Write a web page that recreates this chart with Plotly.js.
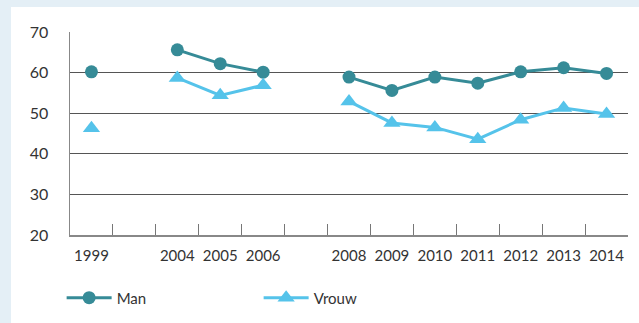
<!DOCTYPE html>
<html>
<head>
<meta charset="utf-8">
<script src="https://cdn.plot.ly/plotly-3.0.1.min.js"></script>
<style>
html,body{margin:0;padding:0;background:#e4eff6;width:639px;height:323px;overflow:hidden;}
#chart{position:absolute;left:11px;top:7px;width:628px;height:316px;background:#fff;}
</style>
</head>
<body>
<div id="chart"></div>
<script>
// Categories (blank slots keep the spacing of the missing years)
const categories = ['1999', ' ', '2004', '2005', '2006', '  ', '2008', '2009', '2010', '2011', '2012', '2013', '2014'];
const tickLabels = ['1999', '', '2004', '2005', '2006', '', '2008', '2009', '2010', '2011', '2012', '2013', '2014'];
const manValues   = [60.2, null, 65.6, 62.2, 60.1, null, 58.9, 55.6, 58.9, 57.4, 60.2, 61.2, 59.8];
const vrouwValues = [46.3, null, 58.7, 54.4, 56.9, null, 52.9, 47.6, 46.5, 43.6, 48.4, 51.3, 49.8];
const seriesNames = ['Man', 'Vrouw'];

const FONT = 'Lato, "Open Sans", sans-serif';

const traces = [
  {
    x: categories, y: manValues, name: seriesNames[0], type: 'scatter', mode: 'lines+markers',
    connectgaps: false,
    line: {color: '#368b97', width: 3},
    marker: {color: '#368b97', size: 13, symbol: 'circle'}
  },
  {
    x: categories, y: vrouwValues, name: seriesNames[1], type: 'scatter', mode: 'lines+markers',
    connectgaps: false,
    line: {color: '#55c3ea', width: 3},
    marker: {color: '#55c3ea', size: 15, symbol: 'triangle-up'}
  }
];

const layout = {
  width: 628, height: 316,
  margin: {l: 59, r: 11, t: 25, b: 88, autoexpand: false},
  paper_bgcolor: '#ffffff', plot_bgcolor: '#ffffff',
  font: {family: FONT, size: 15, color: '#333333'},
  showlegend: true,
  legend: {
    orientation: 'h', x: -0.015, xanchor: 'left', y: -0.31, yanchor: 'middle',
    entrywidth: 137, entrywidthmode: 'pixels', itemwidth: 45,
    font: {family: FONT, size: 15, color: '#333333'},
    bgcolor: 'rgba(0,0,0,0)'
  },
  xaxis: {
    type: 'category',
    categoryorder: 'array', categoryarray: categories,
    tickvals: categories, ticktext: tickLabels,
    tickson: 'boundaries', tickangle: 0,
    ticks: 'inside', ticklen: 11, tickwidth: 1, tickcolor: '#777777',
    showline: true, linecolor: '#888888', linewidth: 1.5,
    showgrid: false, zeroline: false,
    ticklabelstandoff: 6,
    tickfont: {family: FONT, size: 15, color: '#333333'},
    range: [-0.5, 12.5], fixedrange: true
  },
  yaxis: {
    range: [20, 70], dtick: 10, tick0: 20,
    showgrid: true, gridcolor: '#555555', gridwidth: 1,
    showline: true, linecolor: '#888888', linewidth: 1.5,
    ticks: '', zeroline: false,
    ticklabelstandoff: 17,
    tickfont: {family: FONT, size: 16, color: '#333333'},
    fixedrange: true
  }
};

Plotly.newPlot('chart', traces, layout, {displayModeBar: false, staticPlot: true});
</script>
</body>
</html>
